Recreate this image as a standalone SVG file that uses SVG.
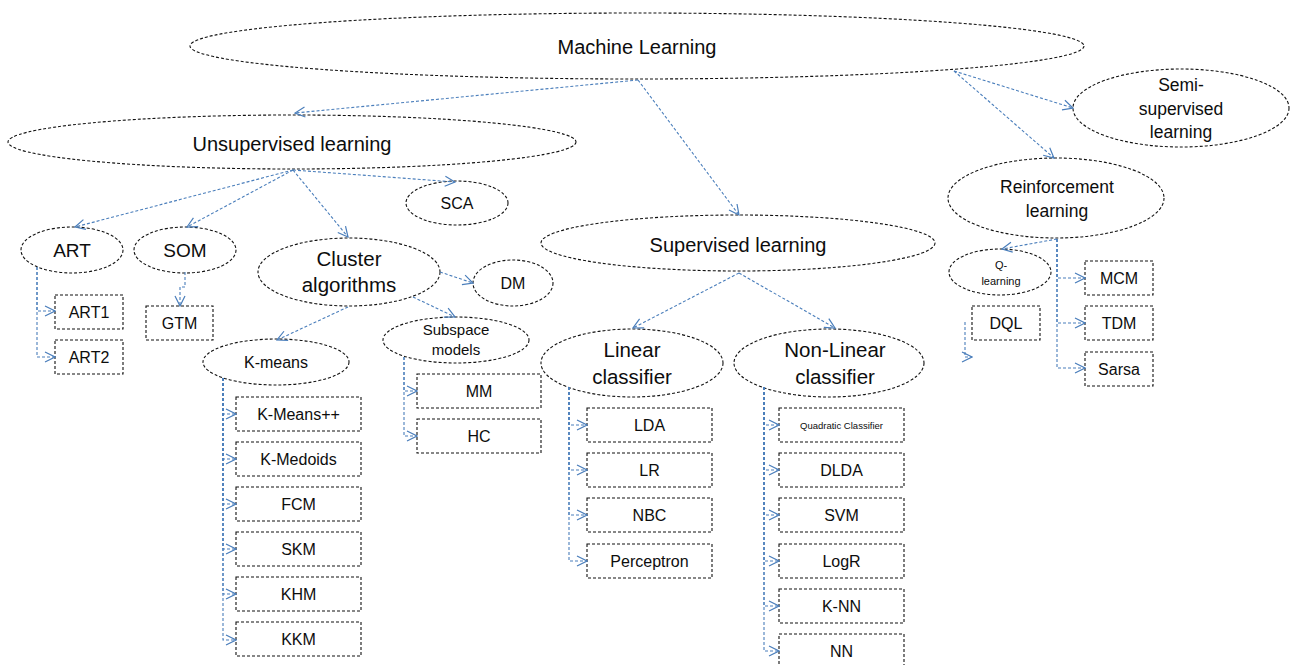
<svg xmlns="http://www.w3.org/2000/svg" width="1290" height="665" viewBox="0 0 1290 665">
<style>
.n{fill:#fff;stroke:#111;stroke-width:1.1;stroke-dasharray:3,2}
.t{font-family:"Liberation Sans",Arial,sans-serif;fill:#0d0d0d;text-anchor:middle}
.b{font-size:16px}
.c path{fill:none;stroke:#4a7ebb;stroke-width:1.1;stroke-dasharray:3,2;marker-end:url(#arr)}
</style>
<defs>
<marker id="arr" viewBox="0 0 12 12" refX="11" refY="6" markerWidth="12" markerHeight="12" markerUnits="userSpaceOnUse" orient="auto">
<path d="M1,1 L11,6 L1,11" fill="none" stroke="#4a7ebb" stroke-width="1.2"/>
</marker>
</defs>
<rect width="1290" height="665" fill="#fff"/>
<g id="nodes">
<g id="ml"><ellipse class="n" cx="637" cy="46" rx="447" ry="33"/><text class="t" x="637" y="54" font-size="20">Machine Learning</text></g>
<g id="unsup"><ellipse class="n" cx="292" cy="142" rx="284" ry="27"/><text class="t" x="292" y="151" font-size="20">Unsupervised learning</text></g>
<g id="sup"><ellipse class="n" cx="738" cy="243" rx="197" ry="28"/><text class="t" x="738" y="252" font-size="20">Supervised learning</text></g>
<g id="semi"><ellipse class="n" cx="1181" cy="108" rx="108" ry="39"/><text class="t" x="1181" y="91" font-size="17.5">Semi-</text><text class="t" x="1181" y="115" font-size="17.5">supervised</text><text class="t" x="1181" y="138" font-size="17.5">learning</text></g>
<g id="reinf"><ellipse class="n" cx="1056" cy="198" rx="108" ry="40"/><text class="t" x="1057" y="193" font-size="17.5">Reinforcement</text><text class="t" x="1057" y="217" font-size="17.5">learning</text></g>
<g id="qlearn"><ellipse class="n" cx="1000" cy="272" rx="51" ry="23"/><text class="t" x="1001" y="269" font-size="11">Q-</text><text class="t" x="1001" y="285" font-size="11">learning</text></g>
<g id="art"><ellipse class="n" cx="72" cy="250" rx="51" ry="23"/><text class="t" x="72" y="257" font-size="19">ART</text></g>
<g id="som"><ellipse class="n" cx="185" cy="250" rx="51" ry="23"/><text class="t" x="185" y="257" font-size="19">SOM</text></g>
<g id="sca"><ellipse class="n" cx="457" cy="203" rx="51" ry="22"/><text class="t" x="457" y="209" font-size="16">SCA</text></g>
<g id="cluster"><ellipse class="n" cx="349" cy="272" rx="91" ry="34"/><text class="t" x="349" y="266" font-size="20.5">Cluster</text><text class="t" x="349" y="292" font-size="20.5">algorithms</text></g>
<g id="dm"><ellipse class="n" cx="513" cy="283" rx="40" ry="23"/><text class="t" x="513" y="289" font-size="16">DM</text></g>
<g id="subspace"><ellipse class="n" cx="456" cy="340" rx="73" ry="23"/><text class="t" x="456" y="335" font-size="15">Subspace</text><text class="t" x="456" y="355" font-size="15">models</text></g>
<g id="kmeans"><ellipse class="n" cx="276" cy="362" rx="73" ry="23"/><text class="t" x="276" y="368" font-size="16">K-means</text></g>
<g id="linear"><ellipse class="n" cx="632" cy="363" rx="91" ry="34"/><text class="t" x="632" y="357" font-size="20.5">Linear</text><text class="t" x="632" y="384" font-size="20.5">classifier</text></g>
<g id="nonlinear"><ellipse class="n" cx="829" cy="363" rx="95" ry="34"/><text class="t" x="835" y="357" font-size="20.5">Non-Linear</text><text class="t" x="835" y="384" font-size="20.5">classifier</text></g>
<g id="art1"><rect class="n" x="55" y="295" width="68" height="34"/><text class="t b" x="89" y="318">ART1</text></g>
<g id="art2"><rect class="n" x="55" y="340" width="68" height="34"/><text class="t b" x="89" y="363">ART2</text></g>
<g id="gtm"><rect class="n" x="146" y="306" width="67" height="34"/><text class="t b" x="179.5" y="329">GTM</text></g>
<g id="kmeanspp"><rect class="n" x="236" y="397" width="125" height="34"/><text class="t b" x="298.5" y="420">K-Means++</text></g>
<g id="kmedoids"><rect class="n" x="236" y="442" width="125" height="34"/><text class="t b" x="298.5" y="465">K-Medoids</text></g>
<g id="fcm"><rect class="n" x="236" y="487" width="125" height="34"/><text class="t b" x="298.5" y="510">FCM</text></g>
<g id="skm"><rect class="n" x="236" y="532" width="125" height="34"/><text class="t b" x="298.5" y="555">SKM</text></g>
<g id="khm"><rect class="n" x="236" y="577" width="125" height="34"/><text class="t b" x="298.5" y="600">KHM</text></g>
<g id="kkm"><rect class="n" x="236" y="622" width="125" height="34"/><text class="t b" x="298.5" y="645">KKM</text></g>
<g id="mm"><rect class="n" x="417" y="374" width="124" height="34"/><text class="t b" x="479" y="397">MM</text></g>
<g id="hc"><rect class="n" x="417" y="419" width="124" height="34"/><text class="t b" x="479" y="442">HC</text></g>
<g id="lda"><rect class="n" x="587" y="408" width="125" height="34"/><text class="t b" x="649.5" y="431">LDA</text></g>
<g id="lr"><rect class="n" x="587" y="453" width="125" height="34"/><text class="t b" x="649.5" y="476">LR</text></g>
<g id="nbc"><rect class="n" x="587" y="498" width="125" height="34"/><text class="t b" x="649.5" y="521">NBC</text></g>
<g id="perceptron"><rect class="n" x="587" y="544" width="125" height="34"/><text class="t b" x="649.5" y="567">Perceptron</text></g>
<g id="quadratic"><rect class="n" x="779" y="408" width="125" height="34"/><text class="t" x="841.5" y="429" font-size="9.5">Quadratic  Classifier</text></g>
<g id="dlda"><rect class="n" x="779" y="453" width="125" height="34"/><text class="t b" x="841.5" y="476">DLDA</text></g>
<g id="svm"><rect class="n" x="779" y="498" width="125" height="34"/><text class="t b" x="841.5" y="521">SVM</text></g>
<g id="logr"><rect class="n" x="779" y="544" width="125" height="34"/><text class="t b" x="841.5" y="567">LogR</text></g>
<g id="knn"><rect class="n" x="779" y="589" width="125" height="34"/><text class="t b" x="841.5" y="612">K-NN</text></g>
<g id="nn"><rect class="n" x="779" y="634" width="125" height="40"/><text class="t b" x="841.5" y="657">NN</text></g>
<g id="mcm"><rect class="n" x="1085" y="261" width="68" height="34"/><text class="t b" x="1119" y="284">MCM</text></g>
<g id="tdm"><rect class="n" x="1085" y="306" width="68" height="34"/><text class="t b" x="1119" y="329">TDM</text></g>
<g id="sarsa"><rect class="n" x="1085" y="352" width="68" height="34"/><text class="t b" x="1119" y="375">Sarsa</text></g>
<g id="dql"><rect class="n" x="972" y="306" width="68" height="34"/><text class="t b" x="1006" y="329">DQL</text></g>
</g>
<g id="connectors" class="c">
<path d="M638,80 L295,113"/>
<path d="M638,80 L739,215"/>
<path d="M954,71 L1073,108"/>
<path d="M954,71 L1054,158"/>
<path d="M293,170 L75,227"/>
<path d="M293,170 L187,227"/>
<path d="M293,170 L348,237"/>
<path d="M293,170 L455,182"/>
<path d="M37,267 V311 H55"/>
<path d="M37,267 V357 H55"/>
<path d="M185,272 V287 H180 V306"/>
<path d="M440,272 L473,283"/>
<path d="M413,297 L455,317"/>
<path d="M348,307 L277,340"/>
<path d="M223,378 V414 H236"/>
<path d="M223,378 V459 H236"/>
<path d="M223,378 V504 H236"/>
<path d="M223,378 V549 H236"/>
<path d="M223,378 V594 H236"/>
<path d="M223,378 V640 H236"/>
<path d="M404,357 V391 H417"/>
<path d="M404,357 V436 H417"/>
<path d="M739,273 L633,328"/>
<path d="M739,273 L835,328"/>
<path d="M569,387 V425 H587"/>
<path d="M569,387 V470 H587"/>
<path d="M569,387 V515 H587"/>
<path d="M569,387 V561 H587"/>
<path d="M764,387 V425 H779"/>
<path d="M764,387 V470 H779"/>
<path d="M764,387 V515 H779"/>
<path d="M764,387 V561 H779"/>
<path d="M764,387 V606 H779"/>
<path d="M764,387 V651 H779"/>
<path d="M1057,239 L1002,249"/>
<path d="M1057,239 V278 H1085"/>
<path d="M1057,239 V323 H1085"/>
<path d="M1057,239 V368 H1085"/>
<path d="M965,322 V357 H972"/>
</g>
</svg>
